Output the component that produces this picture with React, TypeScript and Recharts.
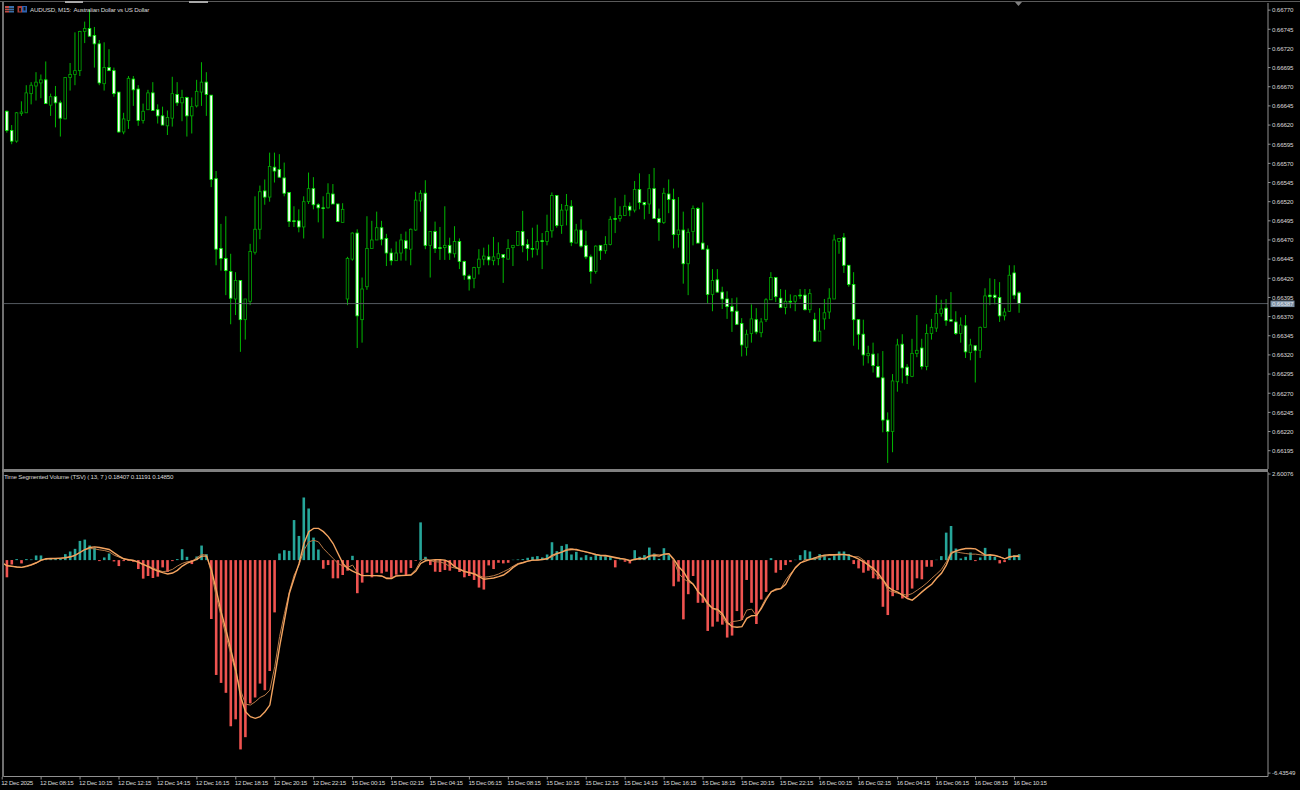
import React from "react";
import { ComposedChart, Bar, Line, XAxis, YAxis, Cell, ReferenceLine } from "recharts";

// Prices are read in units of 0.00001
const opens = [
  66618,66638,66613,66599,66635,66636,66661,66671,66675,66679,
  66646,66657,66649,66628,66682,66686,66691,66742,66746,66737,
  66726,66674,66695,66691,66663,66611,66626,66680,66667,66626,
  66640,66662,66640,66632,66619,66629,66660,66649,66656,66632,
  66645,66663,66676,66659,66550,66459,66446,66429,66393,66417,
  66366,66390,66454,66484,66534,66526,66565,66562,66551,66532,
  66495,66495,66487,66520,66537,66516,66512,66512,66530,66517,
  66493,66393,66445,66479,66366,66409,66459,66470,66486,66472,
  66453,66443,66453,66469,66458,66483,66521,66531,66463,66481,
  66460,66460,66463,66452,66468,66442,66423,66420,66434,66445,
  66448,66443,66446,66451,66445,66460,66463,66481,66464,66459,
  66458,66469,66468,66482,66528,66489,66509,66514,66466,66483,
  66463,66448,66429,66463,66456,66464,66498,66498,66502,66514,
  66509,66536,66519,66517,66537,66498,66493,66530,66523,66477,
  66483,66439,66481,66511,66466,66458,66399,66418,66402,66393,
  66383,66377,66361,66330,66348,66366,66349,66366,66392,66421,
  66394,66382,66390,66390,66398,66398,66379,66366,66338,66367,
  66376,66393,66468,66473,66437,66412,66366,66347,66319,66321,
  66305,66290,66235,66220,66285,66334,66304,66292,66322,66329,
  66305,66348,66355,66374,66381,66366,66363,66348,66358,66323,
  66332,66326,66356,66398,66398,66395,66371,66377,66427,66401,
];
const closes = [
  66638,66613,66599,66636,66637,66662,66672,66676,66679,66648,
  66657,66649,66629,66682,66686,66691,66742,66746,66736,66726,
  66675,66695,66691,66661,66611,66628,66681,66666,66626,66638,
  66662,66639,66632,66620,66630,66661,66649,66656,66632,66644,
  66664,66676,66660,66549,66458,66446,66430,66394,66417,66366,
  66393,66455,66484,66533,66526,66566,66560,66552,66531,66494,
  66494,66487,66520,66537,66516,66512,66511,66531,66517,66494,
  66510,66446,66479,66371,66406,66459,66470,66486,66471,66453,
  66443,66453,66470,66459,66484,66522,66531,66463,66481,66459,
  66459,66463,66453,66468,66442,66424,66419,66434,66445,66449,
  66444,66448,66452,66447,66459,66463,66481,66463,66459,66458,
  66468,66468,66481,66528,66489,66509,66515,66467,66483,66462,
  66448,66429,66462,66456,66464,66497,66497,66502,66514,66509,
  66536,66519,66516,66537,66498,66493,66531,66523,66477,66483,
  66439,66480,66511,66466,66458,66399,66417,66402,66393,66383,
  66377,66360,66333,66347,66367,66350,66363,66392,66421,66396,
  66382,66390,66389,66397,66397,66379,66400,66338,66351,66375,
  66394,66470,66472,66437,66412,66366,66347,66320,66322,66306,
  66291,66235,66220,66286,66333,66303,66293,66322,66326,66305,
  66348,66356,66374,66380,66365,66364,66348,66359,66324,66333,
  66326,66356,66397,66396,66395,66371,66376,66424,66398,66387,
];
const highs = [
  66639,66639,66620,66637,66651,66672,66676,66689,66686,66703,
  66661,66671,66652,66682,66701,66741,66743,66755,66771,66748,
  66731,66728,66719,66695,66663,66636,66684,66684,66672,66648,
  66666,66676,66647,66644,66639,66683,66676,66666,66657,66656,
  66679,66702,66689,66659,66560,66491,66501,66452,66428,66417,
  66393,66465,66527,66541,66549,66584,66584,66582,66571,66532,
  66514,66510,66527,66558,66552,66518,66527,66544,66543,66517,
  66518,66448,66480,66484,66421,66501,66495,66507,66495,66478,
  66459,66468,66478,66481,66485,66533,66535,66548,66481,66494,
  66487,66514,66473,66488,66472,66443,66425,66435,66458,66460,
  66464,66474,66467,66451,66471,66463,66481,66508,66471,66486,
  66490,66479,66503,66532,66528,66517,66530,66522,66491,66497,
  66482,66451,66463,66463,66475,66501,66525,66514,66529,66519,
  66547,66557,66519,66556,66564,66511,66538,66549,66537,66526,
  66507,66485,66515,66513,66519,66463,66432,66432,66409,66403,
  66394,66395,66368,66353,66386,66381,66368,66394,66428,66421,
  66406,66405,66399,66398,66406,66406,66406,66375,66381,66393,
  66407,66477,66472,66479,66437,66428,66366,66366,66332,66336,
  66322,66325,66245,66295,66341,66347,66308,66341,66372,66341,
  66360,66367,66398,66392,66393,66402,66377,66369,66372,66341,
  66332,66357,66407,66420,66419,66415,66381,66437,66437,66403,
];
const lows = [
  66616,66610,66595,66597,66632,66636,66647,66652,66655,66648,
  66632,66617,66605,66628,66665,66672,66684,66727,66736,66695,
  66672,66665,66691,66657,66610,66608,66615,66645,66619,66622,
  66640,66639,66622,66620,66607,66618,66645,66625,66605,66609,
  66643,66645,66632,66539,66437,66430,66398,66360,66372,66324,
  66340,66385,66451,66471,66516,66520,66545,66551,66527,66487,
  66487,66480,66472,66517,66510,66493,66472,66511,66517,66494,
  66493,66385,66443,66329,66336,66405,66459,66470,66463,66436,
  66437,66443,66443,66443,66437,66482,66507,66458,66421,66453,
  66444,66444,66444,66447,66432,66418,66404,66407,66425,66437,
  66437,66437,66437,66414,66445,66436,66463,66454,66443,66447,
  66450,66432,66463,66473,66486,66478,66489,66462,66466,66460,
  66445,66413,66426,66444,66452,66463,66479,66494,66502,66501,
  66506,66510,66497,66504,66498,66469,66491,66505,66459,66460,
  66413,66398,66463,66466,66458,66387,66377,66401,66380,66367,
  66350,66359,66318,66319,66336,66347,66343,66363,66392,66389,
  66381,66373,66381,66377,66393,66378,66375,66337,66338,66353,
  66367,66393,66452,66427,66409,66332,66327,66306,66309,66297,
  66290,66219,66179,66193,66272,66283,66282,66291,66317,66301,
  66300,66340,66350,66370,66358,66364,66346,66336,66316,66313,
  66284,66316,66356,66385,66386,66363,66365,66376,66393,66375,
];

const histogram = [
  -.21,-.52,-.13,.03,-.10,.03,.02,.14,.14,.03,
  .03,.03,.04,.18,.26,.34,.58,.62,.44,.37,
  -.03,.08,.20,-.04,-.18,-.03,-.02,-.05,-.27,-.56,
  -.48,-.54,-.50,-.22,-.36,-.03,.03,.33,.10,-.12,
  .11,.44,.18,-1.78,-3.47,-3.71,-4.01,-5.02,-4.81,-5.72,
  -5.35,-4.33,-4.15,-3.73,-3.93,-3.35,-1.58,.20,.30,.28,
  1.21,.73,1.89,1.56,.68,.32,-.26,-.15,-.55,-.55,
  -.45,-.32,.13,-1.00,-.68,-.38,-.52,-.38,-.40,-.35,
  -.56,-.44,-.38,-.45,-.24,-.02,1.14,.10,-.15,-.35,
  -.36,-.30,-.32,-.20,-.36,-.52,-.48,-.60,-.83,-.89,
  -.16,-.27,-.08,-.10,-.08,.01,.02,.03,.07,.10,
  .12,.08,.17,.54,.27,.43,.48,.17,.25,.08,
  .15,.10,.18,.12,.12,.10,-.22,.02,-.05,-.10,
  .30,.10,.15,.38,.20,.04,.36,.15,-.79,-.65,
  -1.79,-1.03,-.48,-1.29,-1.29,-2.14,-2.01,-1.86,-1.95,-2.34,
  -2.28,-1.54,-1.81,-.60,-1.29,-1.93,-1.19,-.96,.06,-.38,
  -.30,-.15,-.06,.01,.15,.30,.26,.08,.18,.16,
  .06,.15,.26,.26,.18,-.12,-.25,-.38,-.32,-.55,
  -.58,-1.41,-1.66,-1.09,-.91,-1.16,-1.13,-.86,-.55,-.58,
  -.20,-.20,.01,.12,.83,1.03,.35,.05,.10,.23,
  -.03,.08,.37,.14,.10,-.10,-.06,.35,.15,.18,
];
const fastLine = [
  -.08,-.17,-.19,-.21,-.22,-.18,-.14,-.08,0,.04,
  .05,.05,.06,.07,.10,.15,.23,.32,.38,.40,
  .38,.35,.32,.22,.12,.04,.01,-.01,-.06,-.13,
  -.20,-.27,-.33,-.38,-.42,-.39,-.31,-.18,-.09,-.04,
  .02,.12,.12,-.30,-.91,-1.57,-2.12,-2.72,-3.32,-4.13,
  -4.58,-4.73,-4.78,-4.73,-4.58,-4.38,-3.52,-2.62,-1.81,-1.01,
  -.55,-.10,.50,.86,.96,.96,.86,.71,.50,.20,
  -.10,-.25,-.33,-.40,-.47,-.47,-.47,-.47,-.48,-.56,
  -.56,-.48,-.47,-.46,-.45,-.33,-.10,-.02,0,.01,
  .01,0,-.07,-.20,-.28,-.35,-.38,-.42,-.50,-.58,
  -.56,-.54,-.50,-.45,-.35,-.22,-.12,-.08,-.03,0,
  0,.02,.04,.14,.20,.24,.30,.32,.32,.28,
  .25,.21,.17,.14,.14,.11,.08,.05,.03,-.02,
  .02,.05,.04,.12,.14,.12,.18,.19,.03,-.20,
  -.35,-.60,-.73,-.96,-1.09,-1.31,-1.46,-1.49,-1.63,-1.89,
  -2.01,-2.03,-2.01,-1.76,-1.68,-1.67,-1.46,-1.19,-.96,-.88,
  -.86,-.73,-.45,-.22,-.08,-.03,.02,.07,.12,.15,
  .16,.16,.17,.17,.15,.10,.03,-.05,-.15,-.25,
  -.40,-.60,-.81,-.91,-.97,-1.06,-1.16,-1.21,-1.09,-.96,
  -.84,-.73,-.55,-.40,-.15,.20,.28,.32,.35,.35,
  .34,.25,.15,.16,.14,.10,.04,.10,.12,.11,
];
const slowLine = [
  -.10,-.16,-.18,-.21,-.22,-.20,-.15,-.09,-.01,.03,
  .04,.05,.05,.07,.09,.13,.25,.32,.35,.34,
  .31,.29,.25,.15,.09,.03,.01,-.01,-.08,-.14,
  -.18,-.24,-.30,-.35,-.33,-.28,-.18,-.10,-.05,-.03,
  .07,.17,.15,-.40,-1.11,-1.70,-2.30,-2.85,-3.40,-3.94,
  -4.35,-4.38,-4.28,-4.15,-4.08,-3.93,-3.22,-2.31,-1.61,-.96,
  -.45,-.15,.30,.55,.60,.55,.35,.20,.05,-.10,
  -.18,-.22,-.15,-.38,-.47,-.46,-.47,-.47,-.49,-.53,
  -.54,-.46,-.46,-.46,-.44,-.28,-.02,.05,-.02,-.05,
  -.06,-.10,-.20,-.24,-.27,-.33,-.38,-.40,-.47,-.52,
  -.50,-.47,-.42,-.35,-.28,-.18,-.10,-.07,-.03,-.01,
  0,.02,.05,.10,.18,.25,.33,.35,.30,.28,
  .24,.20,.16,.14,.12,.10,.06,.05,.02,-.01,
  .04,.04,.06,.14,.17,.16,.17,.20,-.02,-.40,
  -.56,-.66,-.73,-.96,-1.13,-1.36,-1.46,-1.53,-1.71,-1.96,
  -1.86,-1.84,-1.81,-1.51,-1.48,-1.69,-1.41,-1.13,-.96,-.91,
  -.86,-.60,-.40,-.25,-.10,.02,.02,.03,.08,.12,
  .14,.15,.16,.17,.14,.10,.10,0,-.15,-.35,
  -.50,-.60,-.91,-.96,-1.00,-1.03,-1.06,-1.01,-.91,-.81,
  -.69,-.55,-.42,-.28,-.05,.25,.25,.22,.20,.18,
  .18,.16,.14,.14,.14,.10,.04,.08,.12,.15,
];

const timeLabels = [
  "12 Dec 2025","12 Dec 08:15","12 Dec 10:15","12 Dec 12:15","12 Dec 14:15","12 Dec 16:15","12 Dec 18:15",
  "12 Dec 20:15","12 Dec 22:15","15 Dec 00:15","15 Dec 02:15","15 Dec 04:15","15 Dec 06:15","15 Dec 08:15",
  "15 Dec 10:15","15 Dec 12:15","15 Dec 14:15","15 Dec 16:15","15 Dec 18:15","15 Dec 20:15","15 Dec 22:15",
  "16 Dec 00:15","16 Dec 02:15","16 Dec 04:15","16 Dec 06:15","16 Dec 08:15","16 Dec 10:15",
];
const timeTickIndex = timeLabels.map((_, k) => k * 8);
const priceTicks = [
  0.6677,0.66745,0.6672,0.66695,0.6667,0.66645,0.6662,0.66595,0.6657,0.66545,0.6652,0.66495,
  0.6647,0.66445,0.6642,0.66395,0.6637,0.66345,0.6632,0.66295,0.6627,0.66245,0.6622,0.66195,
];
const tsvTicks = [2.60076, -6.43549];
const lastPrice = 0.66387;
const titleText = "AUDUSD, M15:  Australian Dollar vs US Dollar";
const tsvText = "Time Segmented Volume (TSV) ( 13, 7 ) 0.18407 0.11191 0.14850";

const candles = opens.map((o, i) => ({
  idx: i,
  open: o / 100000,
  close: closes[i] / 100000,
  high: highs[i] / 100000,
  low: lows[i] / 100000,
  range: [lows[i] / 100000, highs[i] / 100000],
}));
const tsvRows = histogram.map((h, i) => ({ idx: i, hist: h, fast: fastLine[i], slow: slowLine[i] }));

const FONT = "'Liberation Sans', Arial, sans-serif";
const X_DOMAIN: [number, number] = [-0.45, 260.1];

function Candle(props: any) {
  const { x, width, y, height, payload } = props;
  const cx = x + width / 2;
  const span = payload.high - payload.low || 1e-9;
  const yOf = (v: number) => y + ((payload.high - v) / span) * height;
  const top = yOf(Math.max(payload.open, payload.close));
  const bot = yOf(Math.min(payload.open, payload.close));
  const bear = payload.close < payload.open;
  return (
    <g>
      <line x1={cx} x2={cx} y1={y} y2={y + height} stroke="#00b800" strokeWidth={1} />
      <rect
        x={cx - 1.3}
        y={top}
        width={2.6}
        height={Math.max(bot - top, 0.6)}
        fill={bear ? "#ffffff" : "#000000"}
        stroke={bear ? "#00f000" : "#00a800"}
        strokeWidth={0.8}
      />
    </g>
  );
}

function PriceTick(props: any) {
  const { x, y, payload, digits } = props;
  return (
    <g>
      <line x1={x} x2={x + 2.5} y1={y} y2={y} stroke="#909090" strokeWidth={1} />
      <text x={x + 4} y={y + 2.3} fontSize={6.2} letterSpacing={-0.15} fontFamily={FONT} fill="#d8d8d8">
        {Number(payload.value).toFixed(digits)}
      </text>
    </g>
  );
}

function TimeTick(props: any) {
  const { x, y, payload } = props;
  return (
    <g>
      <line x1={x} x2={x} y1={y} y2={y + 3} stroke="#909090" strokeWidth={1} />
      <text x={x - 1} y={y + 8.8} fontSize={6.2} letterSpacing={-0.3} fontFamily={FONT} fill="#d8d8d8">
        {timeLabels[payload.value / 8]}
      </text>
    </g>
  );
}

function PriceFlag(props: any) {
  const vb = props.viewBox;
  const yy = vb.y;
  const xx = vb.x + vb.width;
  return (
    <g>
      <rect x={xx + 2.5} y={yy - 3} width={24} height={6.5} fill="#7b8fa3" />
      <text x={xx + 4} y={yy + 2.3} fontSize={6.2} letterSpacing={-0.15} fontFamily={FONT} fill="#e4e8ee">
        {lastPrice.toFixed(5)}
      </text>
    </g>
  );
}

const strip = (left: number, top: number, width: number, height: number, background: string): React.CSSProperties => ({
  position: "absolute", left, top, width, height, background,
});

const caption: React.CSSProperties = {
  position: "absolute", fontSize: 6.2, letterSpacing: -0.2, lineHeight: "8px", fontFamily: FONT, color: "#d8d8d8", whiteSpace: "pre",
};

export default function App() {
  return (
    <div style={{ position: "absolute", left: 0, top: 0, width: 1300, height: 790, background: "#000", overflow: "hidden" }}>
      <div style={{ position: "absolute", left: 0, top: 0 }}>
        <ComposedChart width={1300} height={469} data={candles} margin={{ top: 3, right: 0, bottom: 0, left: 0 }}>
          <XAxis dataKey="idx" type="number" domain={X_DOMAIN} hide allowDataOverflow />
          <YAxis
            orientation="right"
            width={32}
            domain={[0.661711, 0.667793]}
            allowDataOverflow
            ticks={priceTicks}
            interval={0}
            axisLine={{ stroke: "#909090" }}
            tickLine={false}
            tickSize={0}
            tickMargin={0}
            tick={<PriceTick digits={5} />}
          />
          <ReferenceLine y={lastPrice} stroke="#545a60" strokeWidth={1} label={<PriceFlag />} />
          <Bar dataKey="range" barSize={5} shape={<Candle />} isAnimationActive={false} />
        </ComposedChart>
      </div>
      <div style={{ position: "absolute", left: 0, top: 471 }}>
        <ComposedChart width={1300} height={319} data={tsvRows} margin={{ top: 1, right: 0, bottom: 0, left: 0 }}>
          <XAxis
            dataKey="idx"
            type="number"
            domain={X_DOMAIN}
            allowDataOverflow
            ticks={timeTickIndex}
            interval={0}
            height={13.5}
            axisLine={{ stroke: "#909090" }}
            tickLine={false}
            tickSize={0}
            tickMargin={0}
            tick={<TimeTick />}
          />
          <YAxis
            orientation="right"
            width={32}
            domain={[-6.538, 2.662]}
            allowDataOverflow
            ticks={tsvTicks}
            interval={0}
            axisLine={{ stroke: "#909090" }}
            tickLine={false}
            tickSize={0}
            tickMargin={0}
            tick={<PriceTick digits={5} />}
          />
          <Bar dataKey="hist" barSize={2.6} isAnimationActive={false}>
            {histogram.map((h, i) => (
              <Cell key={i} fill={h >= 0 ? "#26a69a" : "#ef5350"} />
            ))}
          </Bar>
          <Line dataKey="slow" type="linear" dot={false} stroke="#b87a48" strokeWidth={1} isAnimationActive={false} />
          <Line dataKey="fast" type="linear" dot={false} stroke="#f4a460" strokeWidth={1.4} isAnimationActive={false} />
        </ComposedChart>
      </div>

      {/* window frame */}
      <div style={strip(0, 0, 2, 777, "#000")} />
      <div style={strip(2, 1, 1.5, 776, "#707070")} />
      <div style={strip(0, 1, 1300, 1, "#5a5a5a")} />
      <div style={strip(65, 1, 18, 1.5, "#a8a8a8")} />
      <div style={strip(189, 1, 19, 1.5, "#a8a8a8")} />
      <div style={strip(2, 469, 1266, 2.5, "#808080")} />
      <svg style={{ position: "absolute", left: 1015, top: 2 }} width={8} height={5}>
        <polygon points="0,0 7,0 3.5,4" fill="#808080" />
      </svg>

      {/* title icons */}
      <svg style={{ position: "absolute", left: 4, top: 5 }} width={26} height={9}>
        <rect x={1} y={1} width={4} height={6.5} fill="#c04a44" />
        <rect x={5} y={1} width={5} height={6.5} fill="#3a6ea8" />
        <rect x={1} y={3} width={9} height={0.8} fill="#222" />
        <rect x={1} y={5} width={9} height={0.8} fill="#222" />
        <rect x={13.5} y={1} width={4.5} height={6.5} fill="#b04038" />
        <rect x={18} y={1} width={5} height={6.5} fill="#2f62b0" />
        <rect x={15} y={3} width={2} height={3.5} fill="#111" />
        <rect x={19.5} y={2} width={2} height={3.5} fill="#111" />
      </svg>

      <div style={{ ...caption, left: 30, top: 5.5 }}>{titleText}</div>
      <div style={{ ...caption, left: 4, top: 473 }}>{tsvText}</div>
    </div>
  );
}
